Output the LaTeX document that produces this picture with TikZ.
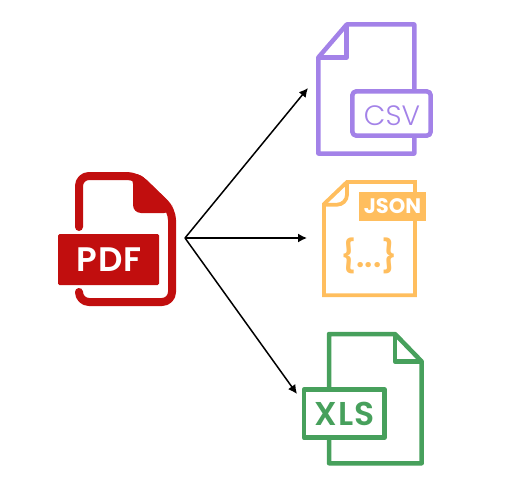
\documentclass[tikz,border=0pt]{standalone}
\usepackage{fontspec}
\usepackage{xcolor}
\usetikzlibrary{arrows, arrows.meta}
\setmainfont{Poppins}
\newfontfamily\lightfont{Poppins Light}
\newfontfamily\semifont{Poppins SemiBold}
\newfontfamily\boldfont{Poppins Bold}
\newfontfamily\widefont[LetterSpace=3]{Poppins SemiBold}
\definecolor{pdfred}{HTML}{C10E0E}
\definecolor{csvpurple}{HTML}{A382E8}
\definecolor{jsonorange}{HTML}{FFBE5E}
\definecolor{xlsgreen}{HTML}{47A05C}
\tikzset{
  flow/.style={-{Latex[length=9pt,width=9pt]}, black, line width=1.5pt},
  csvline/.style={csvpurple, line width=4.5pt, line join=round},
  jsonline/.style={jsonorange, line width=3.8pt, line join=miter},
  xlsline/.style={xlsgreen, line width=4.5pt, line join=round},
  pdfline/.style={pdfred, line width=8pt, line cap=round, line join=round},
  label/.style={inner sep=0pt, anchor=center}
}
\begin{document}
\begin{tikzpicture}[x=1pt, y=-1pt]
      \useasboundingbox (0, 0) rectangle (510, 489);

      % pdf icon
      \draw[pdfline, rounded corners=10pt] (79, 227) -- (79, 176) -- (137, 176) -- (172, 210) -- (172, 302) -- (79, 302) -- (79, 293);
      \fill[pdfred, rounded corners=8pt] (124, 176) -- (133, 176) -- (133, 213) -- (172, 213) -- (172, 205) -- (138, 172) -- cycle;
      \fill[pdfred, rounded corners=1.5pt] (58, 234) rectangle (159, 285);
      \node[label, white] (pdftext) at (109, 260) {\widefont\fontsize{34}{34}\selectfont PDF};

      % csv icon
      \draw[csvline] (414.3, 91) -- (414.3, 24.5) -- (346.7, 24.5) -- (318.3, 57.5) -- (318.3, 153.5) -- (414.3, 153.5) -- (414.3, 136);
      \draw[csvline] (346.7, 24.5) -- (346.7, 57.5) -- (318.3, 57.5);
      \draw[csvline, rounded corners=4pt] (352.3, 91.3) rectangle (430.7, 135.7);
      \node[label, csvpurple] (csvtext) at (392, 116) {\lightfont\fontsize{28}{28}\selectfont CSV};

      % json icon
      \draw[jsonline] (347, 182) -- (415, 182) -- (415, 295.3) -- (324, 295.3) -- (324, 204) -- cycle;
      \draw[jsonline, rounded corners=10pt] (347, 182) -- (347, 204.7) -- (324, 204.7);
      \fill[jsonorange] (359, 191.7) rectangle (426, 220.7);
      \node[label, white] (jsontext) at (392.5, 206) {\boldfont\fontsize{21}{21}\selectfont JSON};
      \node[label, jsonorange] (bracetext) at (369, 256) {\semifont\fontsize{32}{32}\selectfont\{...\}};

      % xls icon
      \draw[xlsline] (329, 388) -- (329, 334) -- (395, 334) -- (421.7, 361.5) -- (421.7, 463.3) -- (329, 463.3) -- (329, 438);
      \draw[xlsline] (395, 334) -- (395, 361.5) -- (421.7, 361.5);
      \draw[xlsline] (304, 389.5) rectangle (384.4, 437.7);
      \node[label, xlsgreen] (xlstext) at (344.7, 414) {\widefont\fontsize{33}{33}\selectfont XLS};

      % arrows
      \coordinate (src) at (185, 238);
      \coordinate (csvin) at (308, 88);
      \coordinate (jsonin) at (307, 238);
      \coordinate (xlsin) at (297, 394);
      \draw[flow] (src) -- (csvin);
      \draw[flow] (src) -- (jsonin);
      \draw[flow] (src) -- (xlsin);
\end{tikzpicture}
\end{document}
